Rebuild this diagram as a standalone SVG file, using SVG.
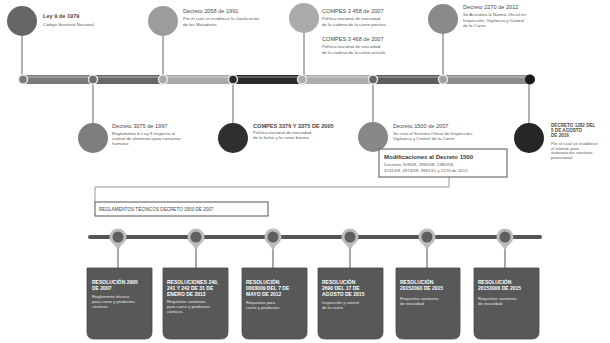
<svg xmlns="http://www.w3.org/2000/svg" width="610" height="343" viewBox="0 0 610 343">
<defs>
<style>
.t{font-family:"Liberation Sans",Arial,sans-serif;font-size:5.6px;font-weight:bold;fill:#4a4a4a}
.b{font-family:"Liberation Sans",Arial,sans-serif;font-size:4.4px;fill:#5a5a5a}
.ct{font-family:"Liberation Sans",Arial,sans-serif;font-size:5px;font-weight:bold;fill:#fff}
.cb{font-family:"Liberation Sans",Arial,sans-serif;font-size:4.2px;fill:#e6e6e6}
.stem{stroke:#8a8a8a;stroke-width:1.3;fill:none}
.node{stroke:#e8e8e8;stroke-width:1.4}
.card{fill:#585858;stroke:#4a4a4a;stroke-width:0.8}
.pin{fill:#606060;stroke:#bdbdbd;stroke-width:3}
.box{fill:#fff;stroke:#555;stroke-width:1}
</style>
</defs>
<rect width="610" height="343" fill="#fff"/>

<g id="connectors">
<line class="stem" x1="22" y1="21" x2="22" y2="79"/>
<line class="stem" x1="163" y1="21" x2="163" y2="79"/>
<line class="stem" x1="304" y1="18" x2="304" y2="79"/>
<line class="stem" x1="443" y1="19" x2="443" y2="79"/>
<line class="stem" x1="93" y1="79" x2="93" y2="138"/>
<line class="stem" x1="233" y1="79" x2="233" y2="138"/>
<line class="stem" x1="373" y1="79" x2="373" y2="137"/>
<line class="stem" x1="529" y1="79" x2="529" y2="138"/>
<polyline fill="none" stroke="#9a9a9a" stroke-width="1" points="449,177 449,187 95,187 95,202"/>
<line x1="90" y1="237" x2="540" y2="237" stroke="#555" stroke-width="4" stroke-linecap="round"/>
<g stroke="#8a8a8a" stroke-width="1.5">
<line x1="118" y1="237" x2="118" y2="268"/>
<line x1="196" y1="237" x2="196" y2="268"/>
<line x1="273" y1="237" x2="273" y2="268"/>
<line x1="350" y1="237" x2="350" y2="268"/>
<line x1="427" y1="237" x2="427" y2="268"/>
<line x1="505" y1="237" x2="505" y2="268"/>
</g>
</g>

<g id="timeline">
<rect x="23" y="75" width="70" height="9" fill="#7a7a7a"/>
<rect x="93" y="75" width="70" height="9" fill="#686868"/>
<rect x="163" y="75" width="70" height="9" fill="#a9a9a9"/>
<rect x="233" y="75" width="69" height="9" fill="#2b2b2b"/>
<rect x="302" y="75" width="71" height="9" fill="#acacac"/>
<rect x="373" y="75" width="70" height="9" fill="#5c5c5c"/>
<rect x="443" y="75" width="87" height="9" fill="#8c8c8c"/>
<rect x="23" y="76" width="507" height="2" fill="#fff" opacity="0.25"/>
<circle class="node" cx="23" cy="79.5" r="4.5" fill="#7a7a7a"/>
<circle class="node" cx="93" cy="79.5" r="4.5" fill="#6e6e6e"/>
<circle class="node" cx="163" cy="79.5" r="4.5" fill="#a9a9a9"/>
<circle class="node" cx="233" cy="79.5" r="4.5" fill="#2b2b2b"/>
<circle class="node" cx="302" cy="79.5" r="4.5" fill="#acacac"/>
<circle class="node" cx="373" cy="79.5" r="4.5" fill="#666"/>
<circle class="node" cx="443" cy="79.5" r="4.5" fill="#a0a0a0"/>
<circle cx="530" cy="79.5" r="5" fill="#1a1a1a"/>
</g>

<g id="ley9">
<circle cx="22" cy="21" r="15" fill="#666"/>
<text class="t" x="43" y="18">Ley 9 de 1979</text>
<text class="b" x="43" y="26">Código Sanitario Nacional</text>
</g>
<g id="dec2058">
<circle cx="163" cy="21" r="15" fill="#9c9c9c"/>
<text class="t" x="183" y="13" style="font-weight:normal">Decreto 2058 de 1991</text>
<text class="b" x="183" y="20">Por el cual se establece la clasificación</text>
<text class="b" x="183" y="25.5">de los Mataderos</text>
</g>
<g id="conpes">
<circle cx="304" cy="18" r="15" fill="#ababab"/>
<text class="t" x="322" y="13" style="font-weight:normal">COMPES 3 458 de 2007</text>
<text class="b" x="322" y="20">Política nacional de inocuidad</text>
<text class="b" x="322" y="25.5">de la cadena de la carne porcina</text>
<text class="t" x="322" y="41" style="font-weight:normal">COMPES 3 468 de 2007</text>
<text class="b" x="322" y="48">Política nacional de inocuidad</text>
<text class="b" x="322" y="53.5">de la cadena de la carne avícola</text>
</g>
<g id="dec2270">
<circle cx="443" cy="19" r="15" fill="#8a8a8a"/>
<text class="t" x="463" y="9" style="font-weight:normal">Decreto 2270 de 2012</text>
<text class="b" x="463" y="16">Se Actualiza la Norma Oficial en</text>
<text class="b" x="463" y="21.5">Inspección, Vigilancia y Control</text>
<text class="b" x="463" y="27">de la Carne</text>
</g>

<g id="dec3075">
<circle cx="93" cy="138" r="15" fill="#7e7e7e"/>
<text class="t" x="112" y="128" style="font-weight:normal">Decreto 3075 de 1997</text>
<text class="b" x="112" y="134.5">Reglamenta la Ley 9 respecto al</text>
<text class="b" x="112" y="139.5">control de alimentos para consumo</text>
<text class="b" x="112" y="144.5">humano.</text>
</g>
<g id="conpes2005">
<circle cx="233" cy="138" r="15" fill="#2f2f2f"/>
<text class="t" x="253" y="128" fill="#222">COMPES 3376 Y 3375 DE 2005</text>
<text class="b" x="253" y="134">Política nacional de inocuidad</text>
<text class="b" x="253" y="139">de la leche y la carne bovina</text>
</g>
<g id="dec1500">
<circle cx="373" cy="137" r="15" fill="#888"/>
<text class="t" x="393" y="128" style="font-weight:normal">Decreto 1500 de 2007</text>
<text class="b" x="393" y="134.5">Se crea el Sistema Oficial de Inspección,</text>
<text class="b" x="393" y="139.5">Vigilancia y Control de la Carne</text>
</g>
<g id="modificaciones">
<rect class="box" x="379" y="149" width="128" height="28" stroke-width="1.3"/>
<text class="t" x="384" y="159" style="font-size:6px;fill:#3a3a3a">Modificaciones al Decreto 1500</text>
<text class="b" x="384" y="166">Decretos 559/08, 2965/08, 2380/09,</text>
<text class="b" x="384" y="171.5">4131/09, 4974/09, 3961/11 y 2270 de 2012</text>
</g>
<g id="dec1282">
<circle cx="529" cy="138" r="15" fill="#262626"/>
<text class="t" x="551" y="127" fill="#222" style="font-size:4.6px">DECRETO 1282 DEL</text>
<text class="t" x="551" y="132" fill="#222" style="font-size:4.6px">5 DE AGOSTO</text>
<text class="t" x="551" y="137" fill="#222" style="font-size:4.6px">DE 2016</text>
<text class="b" x="551" y="145">Por el cual se establece</text>
<text class="b" x="551" y="149.5">el trámite para</text>
<text class="b" x="551" y="154">autorización sanitaria</text>
<text class="b" x="551" y="158.5">provisional.</text>
</g>

<g id="reglamentos">
<rect class="box" x="95" y="202" width="173" height="14" stroke-width="0.9"/>
<text class="b" x="99" y="210.8" style="font-size:4.6px;fill:#444">REGLAMENTOS TÉCNICOS DECRETO 1500 DE 2007</text>
</g>

<g id="pins">
<circle class="pin" cx="118" cy="237" r="7"/>
<circle class="pin" cx="196" cy="237" r="7"/>
<circle class="pin" cx="273" cy="237" r="7"/>
<circle class="pin" cx="350" cy="237" r="7"/>
<circle class="pin" cx="427" cy="237" r="7"/>
<circle class="pin" cx="505" cy="237" r="7"/>
<g fill="#bdbdbd">
<path d="M113 243 L118 250 L123 243 Z"/>
<path d="M191 243 L196 250 L201 243 Z"/>
<path d="M268 243 L273 250 L278 243 Z"/>
<path d="M345 243 L350 250 L355 243 Z"/>
<path d="M422 243 L427 250 L432 243 Z"/>
<path d="M500 243 L505 250 L510 243 Z"/>
</g>
</g>

<g id="res2905">
<path class="card" d="M87 268 H152 V332 Q152 339 145 339 H94 Q87 339 87 332 Z"/>
<text class="ct" x="92" y="284">RESOLUCIÓN 2905</text>
<text class="ct" x="92" y="290">DE 2007</text>
<text class="cb" x="92" y="298">Reglamento técnico</text>
<text class="cb" x="92" y="303">para carne y productos</text>
<text class="cb" x="92" y="308">cárnicos.</text>
</g>
<g id="res240">
<path class="card" d="M163 268 H228 V332 Q228 339 221 339 H170 Q163 339 163 332 Z"/>
<text class="ct" x="167" y="284">RESOLUCIONES 240,</text>
<text class="ct" x="167" y="290">241 Y 242 DE 31 DE</text>
<text class="ct" x="167" y="296">ENERO DE 2013</text>
<text class="cb" x="167" y="303">Requisitos sanitarios</text>
<text class="cb" x="167" y="308">para carne y productos</text>
<text class="cb" x="167" y="313">cárnicos.</text>
</g>
<g id="res3009">
<path class="card" d="M242 268 H307 V332 Q307 339 300 339 H249 Q242 339 242 332 Z"/>
<text class="ct" x="246" y="284">RESOLUCIÓN</text>
<text class="ct" x="246" y="290">0003009 DEL 7 DE</text>
<text class="ct" x="246" y="296">MAYO DE 2012</text>
<text class="cb" x="246" y="304">Requisitos para</text>
<text class="cb" x="246" y="309">carne y productos</text>
</g>
<g id="res2690">
<path class="card" d="M318 268 H383 V332 Q383 339 376 339 H325 Q318 339 318 332 Z"/>
<text class="ct" x="322" y="284">RESOLUCIÓN</text>
<text class="ct" x="322" y="290">2690 DEL 17 DE</text>
<text class="ct" x="322" y="296">AGOSTO DE 2015</text>
<text class="cb" x="322" y="304">Inspección y control</text>
<text class="cb" x="322" y="309">de la carne.</text>
</g>
<g id="res2015a">
<path class="card" d="M396 268 H460 V332 Q460 339 453 339 H403 Q396 339 396 332 Z"/>
<text class="ct" x="400" y="284">RESOLUCIÓN</text>
<text class="ct" x="400" y="290">20152093 DE 2015</text>
<text class="cb" x="400" y="300">Requisitos sanitarios</text>
<text class="cb" x="400" y="305">de inocuidad.</text>
</g>
<g id="res2015b">
<path class="card" d="M474 268 H539 V332 Q539 339 532 339 H481 Q474 339 474 332 Z"/>
<text class="ct" x="478" y="284">RESOLUCIÓN</text>
<text class="ct" x="478" y="290">20153006 DE 2015</text>
<text class="cb" x="478" y="300">Requisitos sanitarios</text>
<text class="cb" x="478" y="305">de inocuidad.</text>
</g>
</svg>
